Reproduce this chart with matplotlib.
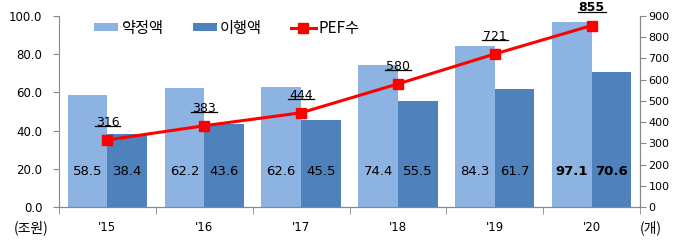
import matplotlib
matplotlib.use("Agg")
import matplotlib.pyplot as plt
from matplotlib.lines import Line2D
import numpy as np

plt.rcParams['font.family'] = ['DejaVu Sans', 'Noto Sans CJK KR']

years = ["'15", "'16", "'17", "'18", "'19", "'20"]
committed = [58.5, 62.2, 62.6, 74.4, 84.3, 97.1]
executed = [38.4, 43.6, 45.5, 55.5, 61.7, 70.6]
pef_count = [316, 383, 444, 580, 721, 855]

light = '#8DB3E2'
dark = '#4F81BD'
red = '#FF0000'
gray = '#888888'
kr = ['Noto Sans CJK KR', 'DejaVu Sans']

fig = plt.figure(figsize=(6.83, 2.5), dpi=100)
ax = fig.add_axes([59/683, 1-207/250, (640-59)/683, (207-16)/250])
x = np.arange(len(years))
w = 0.41
b1 = ax.bar(x - w/2, committed, w, color=light, label='약정액')
b2 = ax.bar(x + w/2, executed, w, color=dark, label='이행액')
ax.set_xlim(-0.5, len(years)-0.5)
ax.set_ylim(0, 100)
ax.set_yticks(np.arange(0, 101, 20))
ax.set_yticklabels([f'{v:.1f}' for v in np.arange(0, 101, 20)], fontsize=8.5)
ax.set_xticks(x)
ax.set_xticklabels(years, fontsize=8.5)
ax.set_xticks(np.arange(-0.5, len(years), 1), minor=True)
ax.tick_params(axis='x', which='major', length=0, pad=10)
ax.tick_params(axis='x', which='minor', length=5, color=gray)
ax.tick_params(axis='y', length=4, color=gray, pad=8)
ax.spines['top'].set_visible(False)
for s in ['left', 'right', 'bottom']:
    ax.spines[s].set_color(gray)

for i in range(len(years)):
    fw = 'bold' if i == len(years)-1 else 'normal'
    ax.text(x[i] - w/2, 18.5, f'{committed[i]:.1f}', ha='center', va='center', fontsize=9.5, fontweight=fw)
    ax.text(x[i] + w/2, 18.5, f'{executed[i]:.1f}', ha='center', va='center', fontsize=9.5, fontweight=fw)

ax2 = ax.twinx()
ax2.set_ylim(0, 900)
ax2.set_yticks(np.arange(0, 901, 100))
ax2.tick_params(axis='y', labelsize=8, length=4, color=gray, pad=2)
for s in ['top', 'left']:
    ax2.spines[s].set_visible(False)
ax2.spines['right'].set_color(gray)
ax2.spines['bottom'].set_color(gray)
ln, = ax2.plot(x, pef_count, color=red, lw=2.2, marker='s', markersize=7, label='PEF수')
anns = []
for i, v in enumerate(pef_count):
    fw = 'bold' if i == len(pef_count)-1 else 'normal'
    a = ax2.annotate(str(v), (x[i], v), xytext=(0, 8), textcoords='offset points',
                     ha='center', va='bottom', fontsize=9, fontweight=fw)
    anns.append(a)

fig.legend(handles=[b1, b2, ln], labels=['약정액', '이행액', 'PEF수'], ncol=3, frameon=False,
           loc='center left', bbox_to_anchor=(94/683, 1-28/250),
           prop={'family': kr, 'size': 11},
           handlelength=1.6, handleheight=0.45, handletextpad=0.2, columnspacing=1.9,
           borderpad=0, borderaxespad=0)

fig.text(14/683, 1-228/250, '(조원)', ha='left', va='center', fontsize=10, family=kr)
fig.text(640/683, 1-228/250, '(개)', ha='left', va='center', fontsize=10, family=kr)

fig.canvas.draw()
r = fig.canvas.get_renderer()
for a in anns:
    bb = a.get_window_extent(r)
    yline = bb.y0 + 2.5
    fig.add_artist(Line2D([(bb.x0 - 1) / fig.bbox.width, (bb.x1 + 1) / fig.bbox.width],
                          [yline / fig.bbox.height, yline / fig.bbox.height],
                          transform=fig.transFigure, color='black', lw=0.9))

fig.savefig('out.png', dpi=100)
